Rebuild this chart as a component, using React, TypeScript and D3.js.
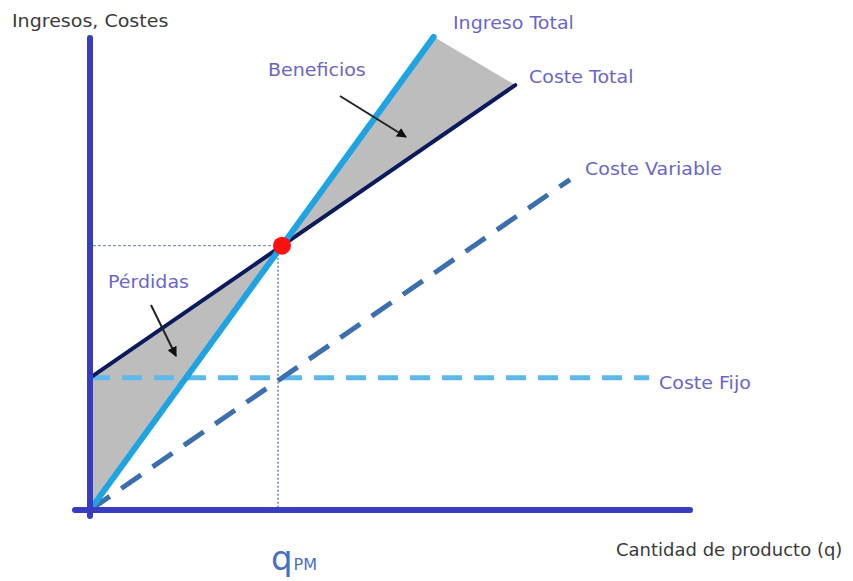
import React from 'react';
import * as d3 from 'd3';

// Break-even model values (units of product / money)
const price = 1.4;
const variableCost = 0.7;
const fixedCost = 28;
const breakEvenQ = fixedCost / (price - variableCost);

// Line end quantities
const lineEnds = {
  ingreso: 71.6,
  costeTotal: 88.6,
  costeVariable: 100,
  costeFijo: 116.5,
};

const labels = ['Ingreso Total', 'Coste Total', 'Coste Variable', 'Coste Fijo'];
const axisTitles = ['Ingresos, Costes', 'Cantidad de producto (q)'];
const regionLabels = ['Beneficios', 'Pérdidas'];

const W = 853;
const H = 581;

// stretched text, the original font is wider than DejaVu
const Label = ({ x, y, fill, sx = 1.12, children }: { x: number; y: number; fill: string; sx?: number; children: React.ReactNode }) => (
  <text transform={`translate(${x},${y}) scale(${sx},1)`} fill={fill} fontSize={17}>{children}</text>
);

export default function App() {
  const x = d3.scaleLinear().domain([0, 100]).range([90, 570]);
  const y = d3.scaleLinear().domain([0, 100]).range([510, 38]);

  const it = (q: number) => price * q;
  const ct = (q: number) => fixedCost + variableCost * q;
  const cv = (q: number) => variableCost * q;

  const line = d3.line<[number, number]>()
    .x(d => x(d[0]))
    .y(d => y(d[1]));

  const beY = it(breakEvenQ);

  const perdidas: [number, number][] = [[0, 0], [0, fixedCost], [breakEvenQ, beY]];
  const beneficios: [number, number][] = [
    [breakEvenQ, beY],
    [lineEnds.ingreso, it(lineEnds.ingreso)],
    [lineEnds.costeTotal, ct(lineEnds.costeTotal)],
  ];

  const labelColor = '#6a66c8';
  const font = 'Tahoma, "DejaVu Sans", Verdana, sans-serif';

  return (
    <svg width={W} height={H} style={{ position: 'absolute', left: 0, top: 0, background: '#fff' }}
      fontFamily={font}>
      <defs>
        <marker id="arr" viewBox="0 0 10 10" refX="9" refY="5" markerWidth="5" markerHeight="5" orient="auto">
          <path d="M0,0 L10,5 L0,10 z" fill="#111" />
        </marker>
      </defs>

      {/* shaded areas */}
      <path d={line(perdidas) + 'Z'} fill="#bdbdbd" />
      <path d={line(beneficios) + 'Z'} fill="#bdbdbd" />

      {/* guide lines to break-even point */}
      <line x1={x(0) + 3} x2={x(breakEvenQ)} y1={y(beY)} y2={y(beY)}
        stroke="#6b7fb8" strokeWidth={1} strokeDasharray="3,2" />
      <line x1={x(breakEvenQ) - 4} x2={x(breakEvenQ) - 4} y1={y(beY)} y2={y(0)}
        stroke="#6b7fb8" strokeWidth={1.5} strokeDasharray="2,2" />

      {/* Coste Fijo */}
      <path d={line([[0, fixedCost], [lineEnds.costeFijo, fixedCost]]) || ''}
        stroke="#5bb9ec" strokeWidth={5} fill="none" strokeDasharray="20,12" />

      {/* Coste Variable */}
      <path d={line([[0, 0], [lineEnds.costeVariable, cv(lineEnds.costeVariable)]]) || ''}
        stroke="#3d6fae" strokeWidth={5} fill="none" strokeDasharray="24,14" />

      {/* Coste Total */}
      <path d={line([[0, fixedCost], [lineEnds.costeTotal, ct(lineEnds.costeTotal)]]) || ''}
        stroke="#0b1a5c" strokeWidth={4} fill="none" strokeLinecap="round" />

      {/* Ingreso Total */}
      <path d={line([[0, 0], [lineEnds.ingreso, it(lineEnds.ingreso)]]) || ''}
        stroke="#1ea3e3" strokeWidth={6} fill="none" strokeLinecap="round" />

      {/* axes */}
      <line x1={x(0)} x2={x(0)} y1={y(0) + 6} y2={y(100)}
        stroke="#3a3cc0" strokeWidth={6} strokeLinecap="round" />
      <line x1={x(0) - 15} x2={x(125)} y1={y(0)} y2={y(0)}
        stroke="#3a3cc0" strokeWidth={6} strokeLinecap="round" />

      {/* break-even point */}
      <circle cx={x(breakEvenQ)} cy={y(beY)} r={9} fill="#ff1010" />

      {/* arrows */}
      <line x1={340} y1={96} x2={406} y2={137} stroke="#222" strokeWidth={2} markerEnd="url(#arr)" />
      <line x1={151} y1={305} x2={176} y2={356} stroke="#222" strokeWidth={2} markerEnd="url(#arr)" />

      {/* labels */}
      <Label x={453} y={29} fill={labelColor}>{labels[0]}</Label>
      <Label x={529} y={83} fill={labelColor}>{labels[1]}</Label>
      <Label x={585} y={175} fill={labelColor}>{labels[2]}</Label>
      <Label x={659} y={389} fill={labelColor}>{labels[3]}</Label>
      <Label x={268} y={76} fill={labelColor}>{regionLabels[0]}</Label>
      <Label x={108} y={288} fill={labelColor}>{regionLabels[1]}</Label>
      <Label x={12} y={27} fill="#3a3a3a">{axisTitles[0]}</Label>
      <Label x={616} y={556} fill="#3a3a3a" sx={1.06}>{axisTitles[1]}</Label>

      <text x={271} y={570} fill="#4a6fc0" fontSize={34}>
        q<tspan fontSize={16} dx={1}>PM</tspan>
      </text>
    </svg>
  );
}
